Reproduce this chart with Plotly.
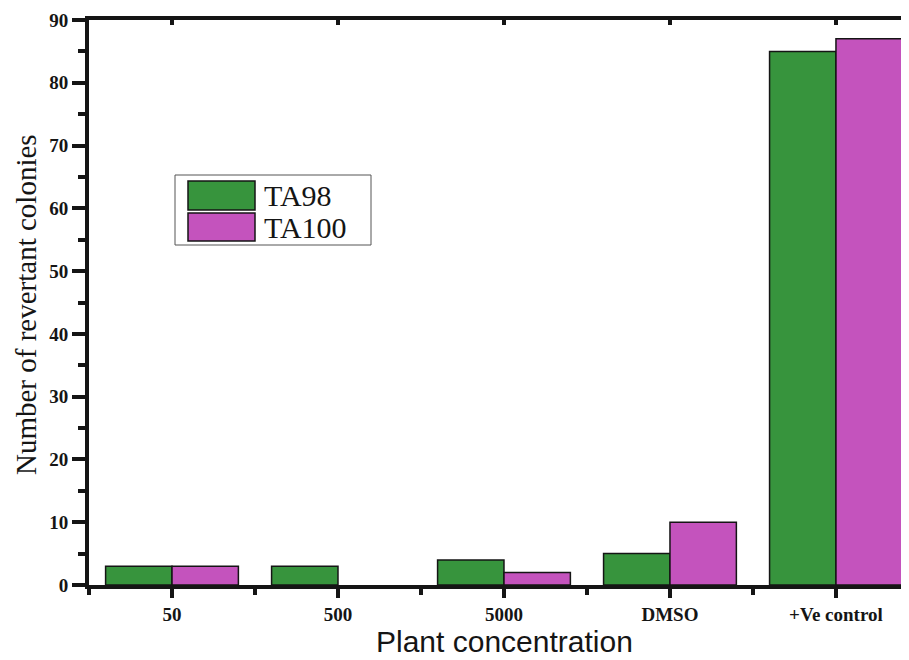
import plotly.graph_objects as go

categories = ["50", "500", "5000", "DMSO", "+Ve control"]
ta98 = [3, 3, 4, 5, 85]
ta100 = [3, 0, 2, 10, 87]
series_names = ["TA98", "TA100"]
x_title = "Plant concentration"
y_title = "Number of revertant colonies"

GREEN = "#37943d"
MAGENTA = "#c453bd"
DARK = "#151515"

xpos = list(range(len(categories)))

def outline_widths(vals):
    return [1.5 if v > 0 else 0 for v in vals]

fig = go.Figure()
fig.add_trace(go.Bar(x=xpos, y=ta98, name=series_names[0],
                     marker=dict(color=GREEN, line=dict(color=DARK, width=outline_widths(ta98))), showlegend=False))
fig.add_trace(go.Bar(x=xpos, y=ta100, name=series_names[1],
                     marker=dict(color=MAGENTA, line=dict(color=DARK, width=outline_widths(ta100))), showlegend=False))
# invisible trace for secondary axes
fig.add_trace(go.Scatter(x=[0], y=[0], xaxis="x2", yaxis="y2", mode="markers", marker=dict(opacity=0),
                         hoverinfo="skip", showlegend=False))

# page has an 8px body margin: figure origin is at page (8, 8)
PL, PR, PT, PB = 89, 909, 20, 585   # plot area in page pixels
OFF = 8
W, H = 909 - OFF, 660 - OFF

xr = [-0.5, 4.44]
fig.update_layout(
    width=W, height=H,
    margin=dict(l=PL - OFF, r=W - (PR - OFF), t=PT - OFF, b=H - (PB - OFF)),
    paper_bgcolor="white", plot_bgcolor="white",
    barmode="group", bargap=0.2, bargroupgap=0,
    font=dict(family="Liberation Serif", color=DARK),
    xaxis=dict(
        range=xr, tickvals=xpos, ticktext=categories,
        showgrid=False, zeroline=False,
        showline=True, linecolor=DARK, linewidth=4, mirror=True,
        ticks="outside", ticklen=9, tickwidth=4, tickcolor=DARK,
        tickfont=dict(family="Liberation Serif", size=19, color=DARK, weight="bold"),
        minor=dict(tickvals=[-0.5, 0.5, 1.5, 2.5, 3.5], ticks="outside", ticklen=6, tickwidth=4, tickcolor=DARK),
    ),
    yaxis=dict(
        range=[0, 90], dtick=10, tick0=0,
        showgrid=False, zeroline=False,
        showline=True, linecolor=DARK, linewidth=4,
        ticks="outside", ticklen=13, tickwidth=4, tickcolor=DARK,
        tickfont=dict(family="Liberation Serif", size=19, color=DARK, weight="bold"),
        minor=dict(dtick=5, ticks="outside", ticklen=7, tickwidth=4, tickcolor=DARK),
    ),
    xaxis2=dict(
        overlaying="x", side="top", anchor="y", range=xr,
        tickvals=xpos, showticklabels=False, showgrid=False, zeroline=False, showline=False,
        ticks="inside", ticklen=5, tickwidth=4, tickcolor=DARK,
    ),
    yaxis2=dict(
        overlaying="y", side="right", anchor="x", range=[0, 90],
        tickvals=[0, 18, 36, 54, 72, 90], showticklabels=False, showgrid=False, zeroline=False, showline=False,
        ticks="inside", ticklen=6, tickwidth=3, tickcolor=DARK,
        minor=dict(tickvals=[9, 27, 45, 63, 81], ticks="inside", ticklen=3, tickwidth=1, tickcolor="#cccccc"),
    ),
)

# paper coordinates derived from page pixels
def px2paper_x(px):
    return (px - PL) / (PR - PL)

def px2paper_y(py):
    return (PB - py) / (PB - PT)

shapes = [
    dict(type="rect", xref="paper", yref="paper", x0=px2paper_x(175), x1=px2paper_x(371), y0=px2paper_y(245), y1=px2paper_y(175),
         line=dict(color="#555555", width=1), fillcolor="white", layer="above"),
    dict(type="rect", xref="paper", yref="paper", x0=px2paper_x(188), x1=px2paper_x(255), y0=px2paper_y(210), y1=px2paper_y(181),
         line=dict(color=DARK, width=1.5), fillcolor=GREEN, layer="above"),
    dict(type="rect", xref="paper", yref="paper", x0=px2paper_x(188), x1=px2paper_x(255), y0=px2paper_y(241), y1=px2paper_y(213),
         line=dict(color=DARK, width=1.5), fillcolor=MAGENTA, layer="above"),
]
annotations = [
    dict(xref="paper", yref="paper", x=px2paper_x(262), y=px2paper_y(195), text=series_names[0], showarrow=False,
         xanchor="left", yanchor="middle", font=dict(family="Liberation Serif", size=30, color=DARK)),
    dict(xref="paper", yref="paper", x=px2paper_x(262), y=px2paper_y(227), text=series_names[1], showarrow=False,
         xanchor="left", yanchor="middle", font=dict(family="Liberation Serif", size=30, color=DARK)),
    # axis titles
    dict(xref="paper", yref="paper", x=px2paper_x(504), y=px2paper_y(659), text=x_title, showarrow=False,
         xanchor="center", yanchor="bottom", borderpad=0,
         font=dict(family="Liberation Sans", size=30, color=DARK)),
    dict(xref="paper", yref="paper", x=px2paper_x(9), y=px2paper_y(305), text=y_title, showarrow=False, textangle=-90,
         xanchor="left", yanchor="middle", borderpad=0,
         font=dict(family="Liberation Serif", size=29, color=DARK)),
]
fig.update_layout(shapes=shapes, annotations=annotations)

fig.write_html("out.html")
